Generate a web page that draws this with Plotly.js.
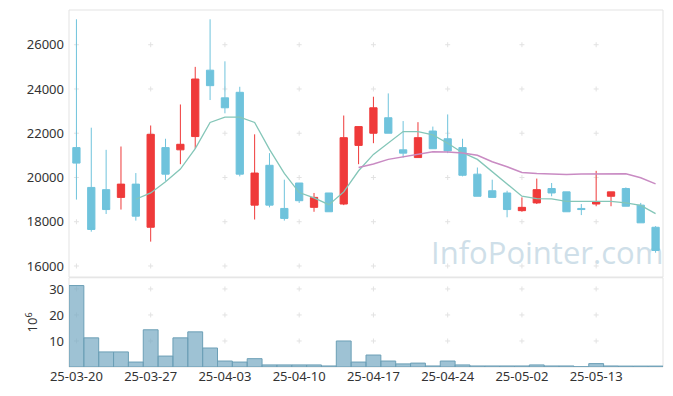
<!DOCTYPE html>
<html><head><meta charset="utf-8">
<script src="https://cdn.plot.ly/plotly-3.0.1.min.js"></script>
<style>html,body{margin:0;padding:0;background:#fff}#chart{width:673px;height:396px}</style>
</head><body><div id="chart"></div>
<script>
const dates=['25-03-20','25-03-21','25-03-24','25-03-25','25-03-26','25-03-27','25-03-28','25-03-31','25-04-01','25-04-02',
'25-04-03','25-04-04','25-04-07','25-04-08','25-04-09','25-04-10','25-04-11','25-04-14','25-04-15','25-04-16',
'25-04-17','25-04-18','25-04-21','25-04-22','25-04-23','25-04-24','25-04-25','25-04-28','25-04-29','25-04-30',
'25-05-02','25-05-07','25-05-08','25-05-09','25-05-12','25-05-13','25-05-14','25-05-15','25-05-16','25-05-19'];
const openP=[21350,19550,19450,19100,19700,17750,21350,21250,21850,24850,
23600,23850,18750,20550,18600,19750,18650,19300,18800,21450,
22000,22700,21250,20900,22100,21750,21350,20150,19400,19300,
18500,18850,19500,19350,18600,18800,19150,19500,18750,17750];
const highP=[27150,22250,21250,21400,20200,22350,21750,23300,25000,27150,
25250,24100,21950,21100,19900,19750,19300,19300,22800,22300,
23650,23800,22550,22500,22300,22850,21750,20450,19900,19400,
19100,19950,19750,19350,18800,20300,19350,19550,18850,17800];
const lowP=[19000,17550,18350,18550,18050,17100,19850,20600,21300,23500,
22900,20050,18100,18650,18050,18850,18450,18450,18750,20600,
21550,22000,20900,20900,21300,21100,20050,19150,19100,18200,
18450,18800,19150,18450,18300,18700,18700,18700,17950,16600];
const closeP=[20650,17650,18550,19700,18250,21950,20150,21500,24450,24150,
23150,20150,20200,18750,18150,18950,19100,18450,21800,22300,
23150,22000,21100,21800,21300,21200,20100,19150,19100,18550,
18650,19450,19300,18450,18550,18900,19350,18700,17950,16700];
const ma5=[null,null,null,null,19015,19303,19803,20379,21303,22485,
22727,22727,22485,21273,20182,19318,19076,18773,19348,20303,
21045,21576,22076,22076,21924,21545,21121,20818,20258,19727,
19152,19045,19030,18924,18924,18939,18924,18848,18742,18364];
const ma20=[null,null,null,null,null,null,null,null,null,null,
null,null,null,null,null,null,null,null,null,20455,
20606,20818,20939,21045,21167,21151,21110,21000,20712,20485,
20227,20182,20152,20136,20152,20152,20167,20167,19985,19712];
const volume=[31.3,11.2,5.8,5.8,1.9,14.3,4.2,11.2,13.5,7.3,
2.3,1.9,3.2,0.8,0.8,0.8,0.8,0.4,10.0,1.9,
4.6,2.3,1.2,1.5,0.4,2.3,0.8,0.4,0.4,0.4,
0.4,0.8,0.4,0.4,0.1,1.3,0.4,0.35,0.35,0.35];
const tickDates=['25-03-20','25-03-27','25-04-03','25-04-10','25-04-17','25-04-24','25-05-02','25-05-13'];
const priceTicks=[16000,18000,20000,22000,24000,26000];
const volTicks=[10,20,30];

const RED='#ef3a3a', BLUE='#6fc3dc';
const tickFont={family:'Noto Sans, sans-serif',size:13,color:'#333'};
const CROSS={color:'#e2e2e2',width:1};

function crossShapes(yref,vals){
  const out=[];
  tickDates.forEach(d=>{vals.forEach(v=>{
    out.push({type:'line',layer:'below',xref:'x',yref:yref,xsizemode:'pixel',xanchor:d,x0:-2.5,x1:2.5,y0:v,y1:v,line:CROSS});
    out.push({type:'line',layer:'below',xref:'x',yref:yref,ysizemode:'pixel',yanchor:v,y0:-2.5,y1:2.5,x0:d,x1:d,line:CROSS});
  });});
  return out;
}

const traces=[
 {type:'candlestick',x:dates,open:openP,high:highP,low:lowP,close:closeP,xaxis:'x',yaxis:'y',
  increasing:{line:{color:RED,width:1},fillcolor:RED},
  decreasing:{line:{color:BLUE,width:1},fillcolor:BLUE},whiskerwidth:0},
 {type:'bar',x:dates,y:volume,xaxis:'x',yaxis:'y2',
  marker:{color:'rgba(120,170,195,0.72)',line:{color:'#6c9fb6',width:1}}},
 {type:'scatter',mode:'lines',x:dates,y:ma5,xaxis:'x',yaxis:'y',line:{color:'#84c6b8',width:1.3}},
 {type:'scatter',mode:'lines',x:dates,y:ma20,xaxis:'x',yaxis:'y',line:{color:'#c98bc3',width:1.5}}
];

const layout={
 width:673,height:396,margin:{l:69,r:10,t:10,b:29},
 paper_bgcolor:'#ffffff',plot_bgcolor:'rgba(0,0,0,0)',
 showlegend:false,bargap:0,
 xaxis:{type:'category',categoryorder:'array',categoryarray:dates,range:[-0.5,39.5],anchor:'y2',
  tickmode:'array',tickvals:tickDates,ticktext:tickDates,tickangle:0,
  showgrid:false,zeroline:false,showline:false,ticks:'',rangeslider:{visible:false},tickfont:tickFont,fixedrange:true},
 yaxis:{domain:[0.252,1],range:[15500,27570],tickmode:'array',tickvals:priceTicks,ticktext:priceTicks.map(String),
  showgrid:false,zeroline:false,showline:false,ticks:'',tickfont:tickFont,ticklabelstandoff:4},
 yaxis2:{domain:[0,0.25],range:[0,34.3],tickmode:'array',tickvals:volTicks,ticktext:volTicks.map(String),
  showgrid:false,zeroline:false,showline:false,ticks:'',tickfont:tickFont,ticklabelstandoff:4,
  title:{text:'10<sup>6</sup>',font:tickFont,standoff:8}},
 shapes:[
  {type:'rect',xref:'paper',yref:'paper',x0:0,x1:1,y0:0.252,y1:1,line:{color:'#e3e3e3',width:1},layer:'below'},
  {type:'rect',xref:'paper',yref:'paper',x0:0,x1:1,y0:0,y1:0.25,line:{color:'#e3e3e3',width:1},layer:'below'},
  {type:'rect',xref:'paper',yref:'paper',x0:0.62,x1:0.99,y0:0.262,y1:0.37,line:{width:0},layer:'below',
   label:{text:'InfoPointer.com',textposition:'middle center',font:{family:'Open Sans, sans-serif',size:31,color:'#cfdfe9'}}}
 ].concat(crossShapes('y',priceTicks)).concat(crossShapes('y2',volTicks))
};
Plotly.newPlot('chart',traces,layout,{displayModeBar:false,staticPlot:true});
</script></body></html>
